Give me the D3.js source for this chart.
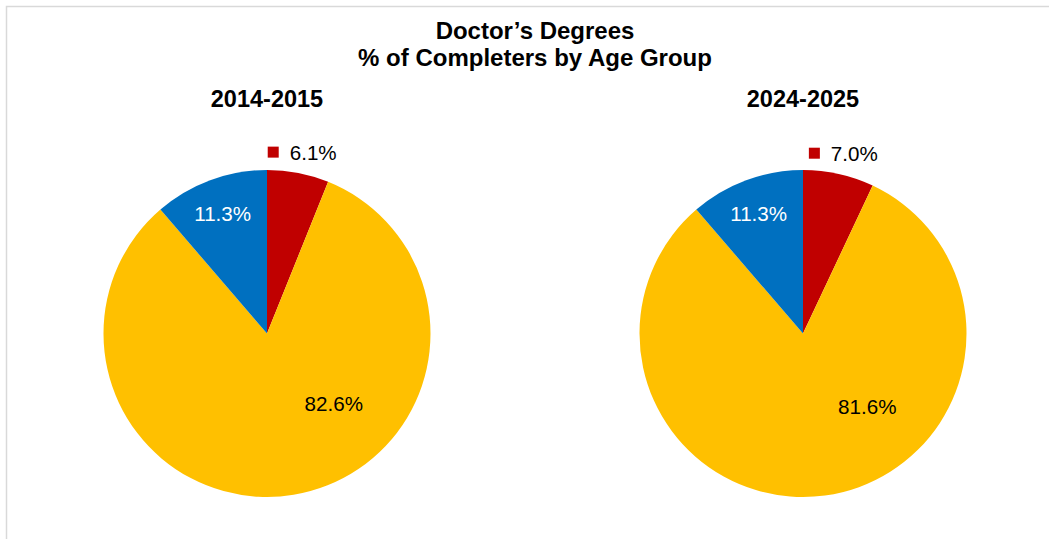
<!DOCTYPE html>
<html>
<head>
<meta charset="utf-8">
<script src="https://cdn.jsdelivr.net/npm/d3@7"></script>
<style>
  html, body { margin: 0; padding: 0; background: #ffffff; }
  svg { display: block; font-family: Arial, "Liberation Sans", sans-serif; }
</style>
</head>
<body>
<svg id="chart" width="1049" height="539"></svg>
<script>
// Age groups, in drawing order (clockwise from 12 o'clock)
const ageGroups = ["Group A", "Group B", "Group C"];
const years = ["2014-2015", "2024-2025"];
const share2014 = [6.1, 82.6, 11.3];
const share2024 = [7.0, 81.6, 11.3];

const titleLines = ["Doctor\u2019s Degrees", "% of Completers by Age Group"];

// Styling
const sliceColors = ["#C00000", "#FFC000", "#0070C0"];
const labelColors = ["#000000", "#000000", "#ffffff"];
// label placement per slice: t = position along the slice's angular span,
// rf = distance from centre as a fraction of the radius, outside = legend-style label above the pie
const labelPlace = [
  { t: 0.5, rf: 1.13, outside: true },
  { t: 0.385, rf: 0.593 },
  { t: 0.5, rf: 0.78 }
];
const labelSize = 20.6;

const svg = d3.select("#chart");

// chart-area frame
svg.append("rect")
  .attr("x", 6.5).attr("y", 6.5)
  .attr("width", 1200).attr("height", 700)
  .attr("fill", "#ffffff")
  .attr("stroke", "#d9d9d9")
  .attr("stroke-width", 1.5);

// title
const title = svg.append("text")
  .attr("x", 535)
  .attr("text-anchor", "middle")
  .attr("font-weight", "bold")
  .attr("font-size", 24)
  .attr("fill", "#000");
titleLines.forEach((line, i) => {
  title.append("tspan").attr("x", 535).attr("y", 39 + i * 27).text(line);
});

const centers = d3.scalePoint().domain(years).range([267, 803]);
const cy = 333.5, radius = 163.5;

const pie = d3.pie().sort(null).value(d => d.value);
const arc = d3.arc().innerRadius(0).outerRadius(radius);

const datasets = [share2014, share2024];

years.forEach((yr, k) => {
  const cx = centers(yr);
  const data = ageGroups.map((g, i) => ({ group: g, value: datasets[k][i], idx: i }));
  const arcs = pie(data);

  // year heading
  svg.append("text")
    .attr("x", cx).attr("y", 107)
    .attr("text-anchor", "middle")
    .attr("font-weight", "bold")
    .attr("font-size", 23.5)
    .attr("fill", "#000")
    .text(yr);

  const g = svg.append("g").attr("transform", `translate(${cx},${cy})`);

  g.selectAll("path.slice")
    .data(arcs)
    .join("path")
    .attr("class", "slice")
    .attr("d", arc)
    .attr("fill", d => sliceColors[d.data.idx]);

  arcs.forEach(d => {
    const p = labelPlace[d.data.idx];
    const a = d.startAngle + p.t * (d.endAngle - d.startAngle);
    const r = p.rf * radius;
    const x = r * Math.sin(a), y = -r * Math.cos(a);
    const txt = d3.format(".1f")(d.data.value) + "%";

    if (p.outside) {
      const lg = g.append("g");
      const t = lg.append("text")
        .attr("font-size", labelSize)
        .attr("fill", labelColors[d.data.idx])
        .attr("x", 22).attr("y", 7.5)
        .text(txt);
      const tw = t.node().getComputedTextLength();
      lg.insert("rect", "text")
        .attr("x", 0).attr("y", -5.5)
        .attr("width", 11).attr("height", 11)
        .attr("fill", sliceColors[d.data.idx]);
      const total = 22 + tw;
      lg.attr("transform", `translate(${x - total / 2},${y})`);
    } else {
      g.append("text")
        .attr("x", x).attr("y", y + 7.5)
        .attr("text-anchor", "middle")
        .attr("font-size", labelSize)
        .attr("fill", labelColors[d.data.idx])
        .text(txt);
    }
  });
});
</script>
</body>
</html>
